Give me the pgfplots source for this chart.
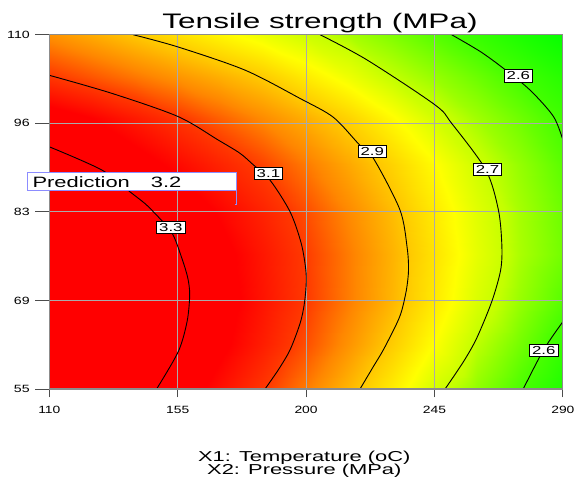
\documentclass[border=0pt]{standalone}
\usepackage{pgfplots}
\pgfplotsset{compat=1.18}
\usepackage{graphicx}
\usepackage{fontspec}
\setmainfont{Liberation Sans}
\definecolor{axgray}{RGB}{140,140,140}
\definecolor{gridgray}{RGB}{170,170,170}
\definecolor{predblue}{RGB}{140,140,255}
\newcommand{\sx}[2][1.45]{\scalebox{#1}[1]{#2}}
\pgfplotstableread{
T P Y
110 55 3.470
125 55 3.410
140 55 3.340
155 55 3.261
170 55 3.182
185 55 3.103
200 55 3.014
215 55 2.923
230 55 2.826
245 55 2.725
260 55 2.659
275 55 2.604
290 55 2.554
110 62 3.490
125 62 3.440
140 62 3.377
155 62 3.305
170 62 3.229
185 62 3.152
200 62 3.071
215 62 2.980
230 62 2.888
245 62 2.789
260 62 2.695
275 62 2.637
290 62 2.581
110 69 3.506
125 69 3.450
140 69 3.388
155 69 3.320
170 69 3.246
185 69 3.172
200 69 3.098
215 69 3.013
230 69 2.927
245 69 2.833
260 69 2.735
275 69 2.666
290 69 2.614
110 76 3.484
125 76 3.430
140 76 3.370
155 76 3.305
170 76 3.235
185 76 3.165
200 76 3.094
215 76 3.013
230 76 2.931
245 76 2.844
260 76 2.752
275 76 2.680
290 76 2.635
110 83 3.428
125 83 3.378
140 83 3.322
155 83 3.261
170 83 3.200
185 83 3.139
200 83 3.071
215 83 2.993
230 83 2.915
245 83 2.829
260 83 2.743
275 83 2.676
290 83 2.630
110 90 3.343
125 90 3.295
140 90 3.243
155 90 3.192
170 90 3.140
185 90 3.085
200 90 3.016
215 90 2.947
230 90 2.875
245 90 2.795
260 90 2.716
275 90 2.662
290 90 2.615
110 97 3.253
125 97 3.210
140 97 3.159
155 97 3.105
170 97 3.049
185 97 2.993
200 97 2.937
215 97 2.874
230 97 2.798
245 97 2.723
260 97 2.672
275 97 2.632
290 97 2.593
110 103.5 3.104
125 103.5 3.063
140 103.5 3.021
155 103.5 2.979
170 103.5 2.937
185 103.5 2.892
200 103.5 2.828
215 103.5 2.765
230 103.5 2.701
245 103.5 2.665
260 103.5 2.630
275 103.5 2.595
290 103.5 2.564
110 110 2.985
125 110 2.943
140 110 2.898
155 110 2.852
170 110 2.807
185 110 2.761
200 110 2.715
215 110 2.678
230 110 2.646
245 110 2.613
260 110 2.582
275 110 2.552
290 110 2.526
}\surfdata
\begin{document}
\begin{tikzpicture}[x=1pt,y=1pt]
\useasboundingbox (0,0) rectangle (575,479);
\begin{axis}[
  at={(49.3pt,90pt)}, anchor=south west,
  scale only axis, width=513.6pt, height=354.3pt,
  view={0}{90},
  xmin=110, xmax=290, ymin=55, ymax=110,
  xtick={110,155,200,245,290},
  xticklabels={\sx[1.32]{110},\sx[1.32]{155},\sx[1.32]{200},\sx[1.32]{245},\sx[1.32]{290}},
  ytick={55,68.75,82.5,96.25,110},
  yticklabels={\sx[1.35]{55},\sx[1.35]{69},\sx[1.35]{83},\sx[1.35]{96},\sx[1.35]{110}},
  ztick=\empty,
  tick pos=left,
  tick align=outside,
  major tick length=14pt,
  xtick style={draw=black!70, line width=0.9pt, /pgfplots/major tick length=8pt},
  ytick style={draw=black!70, line width=0.9pt},
  every tick label/.append style={font=\fontsize{10.5}{12}\selectfont, text=black},
  yticklabel style={xshift=-2pt},
  axis on top,
  axis line style={draw=axgray, line width=1.2pt},
  colormap={dx}{rgb255(0pt)=(0,255,0); rgb255(8pt)=(70,255,0); rgb255(18pt)=(195,255,0); rgb255(27pt)=(255,255,0); rgb255(38pt)=(255,198,0); rgb255(48pt)=(255,135,0); rgb255(58pt)=(255,55,0); rgb255(69pt)=(255,0,0); rgb255(99pt)=(255,0,0)},
  point meta min=2.52, point meta max=3.51,
]
\addplot3[surf, shader=interp, mesh/cols=13] table[x=T, y=P, z=Y] {\surfdata};
% grid lines
\draw[gridgray, line width=0.9pt] (axis cs:155,55,4) -- (axis cs:155,110,4);
\draw[gridgray, line width=0.9pt] (axis cs:200,55,4) -- (axis cs:200,110,4);
\draw[gridgray, line width=0.9pt] (axis cs:245,55,4) -- (axis cs:245,110,4);
\draw[gridgray, line width=0.9pt] (axis cs:110,68.75,4) -- (axis cs:290,68.75,4);
\draw[gridgray, line width=0.9pt] (axis cs:110,82.5,4) -- (axis cs:290,82.5,4);
\draw[gridgray, line width=0.9pt] (axis cs:110,96.25,4) -- (axis cs:290,96.25,4);
% contours
\addplot[black, line width=0.9pt, smooth] coordinates {(110,92.6) (128.4,89.0) (138.3,85.6) (143.5,83.8) (146.5,82.5) (152.9,79.3) (156.3,75.5) (158.5,72.3) (159.2,69.6) (158.3,65.5) (155.2,60.8) (147.6,55)};
\addplot[black, line width=0.9pt, smooth] coordinates {(110,103.7) (131.9,100.9) (155.1,97.3) (169.2,93.65) (176.8,91.6) (181.5,89.8) (187.4,87.4) (194.4,82.5) (198.3,77.6) (199.9,73.5) (200.0,71.0) (199.3,68.0) (197.9,65.2) (194.4,61.1) (190.3,58.0) (185.6,55)};
\addplot[black, line width=0.9pt, smooth] coordinates {(139.4,110) (155.1,108.1) (178.6,104.5) (197.9,100.1) (209.5,97.2) (218.3,93.1) (223.6,90.8) (232.9,82.8) (235.4,77.0) (235.9,73.5) (235.2,70.5) (233.6,67.3) (231.8,65.2) (227.1,61.1) (223.6,58.5) (218.9,55)};
\addplot[black, line width=0.9pt, smooth] coordinates {(204.9,110) (221.3,106.1) (245.2,99.1) (251.0,96.25) (263.0,89.0) (267.4,82.8) (268.6,77.4) (268.2,73.5) (265.1,68.6) (259.8,62.9) (255.1,59.2) (248.7,55)};
\addplot[black, line width=0.9pt, smooth] coordinates {(251.0,110) (261.0,107.4) (269.1,104.8) (278.5,101.4) (286.7,97.3) (290,93.65)};
\addplot[black, line width=0.9pt, smooth] coordinates {(276.1,55) (283.2,61.05) (290,65.45)};
% contour labels
\tikzset{lbl/.style={draw=black, fill=white, line width=0.8pt, inner xsep=2.5pt, inner ysep=2pt, font=\fontsize{11.6}{12}\selectfont}}
\node[lbl] at (axis cs:152.6,80.1,4) {\sx{3.3}};
\node[lbl] at (axis cs:186.8,88.5,4) {\sx{3.1}};
\node[lbl] at (axis cs:223.2,91.9,4) {\sx{2.9}};
\node[lbl] at (axis cs:263.6,89.15,4) {\sx{2.7}};
\node[lbl] at (axis cs:274.4,103.6,4) {\sx{2.6}};
\node[lbl] at (axis cs:283.3,61.05,4) {\sx{2.6}};
\coordinate (pbl) at (axis cs:102.43,85.78,4);
\coordinate (ptr) at (axis cs:175.68,88.64,4);
\coordinate (ppt) at (axis cs:175.68,83.61,4);
\end{axis}
% prediction flag
\draw[predblue, line width=1.2pt, fill=white] (pbl) rectangle (ptr);
\draw[predblue, line width=1.2pt] (pbl -| ptr) -- (ppt) -- ++(-2,0);
\node[anchor=base west, inner sep=0pt, font=\fontsize{15}{18}\selectfont] at (32.3,291.7) {\sx[1.46]{Prediction}};
\node[anchor=base west, inner sep=0pt, font=\fontsize{15}{18}\selectfont] at (150.7,291.7) {\sx[1.46]{3.2}};
% title and axis labels
\node[anchor=base, inner sep=0pt, font=\fontsize{21}{24}\selectfont] at (320,450.7) {\sx[1.5]{Tensile strength (MPa)}};
\node[anchor=base, inner sep=0pt, font=\fontsize{14.4}{16}\selectfont] at (304.3,18) {\sx[1.52]{X1: Temperature (oC)}};
\node[anchor=base, inner sep=0pt, font=\fontsize{14.4}{16}\selectfont] at (304.3,4.5) {\sx[1.52]{X2: Pressure (MPa)}};
\end{tikzpicture}
\end{document}
